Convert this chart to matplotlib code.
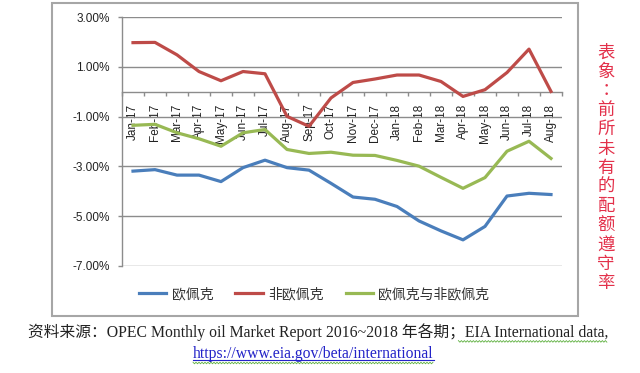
## OPEC / non-OPEC quota compliance chart, recreated from a report screenshot

import numpy as np
import matplotlib
matplotlib.use('Agg')
import matplotlib.pyplot as plt
from matplotlib.patches import Rectangle
from matplotlib.lines import Line2D
from matplotlib.ticker import FuncFormatter, FixedLocator

#-----data (in %)---------------------------------------

months = ['Jan-17', 'Feb-17', 'Mar-17', 'Apr-17', 'May-17', 'Jun-17', 'Jul-17',
          'Aug-17', 'Sep-17', 'Oct-17', 'Nov-17', 'Dec-17', 'Jan-18', 'Feb-18',
          'Mar-18', 'Apr-18', 'May-18', 'Jun-18', 'Jul-18', 'Aug-18']

opec = [-3.19, -3.13, -3.35, -3.35, -3.61, -3.05, -2.75, -3.05, -3.15, -3.68,
        -4.23, -4.32, -4.61, -5.19, -5.59, -5.95, -5.41, -4.19, -4.08, -4.13]

non_opec = [1.97, 1.98, 1.48, 0.81, 0.44, 0.81, 0.72, -0.99, -1.39, -0.25,
            0.37, 0.51, 0.67, 0.67, 0.41, -0.19, 0.08, 0.77, 1.71, 0.01]

both = [-1.35, -1.31, -1.65, -1.89, -2.19, -1.65, -1.52, -2.32, -2.48, -2.43,
        -2.55, -2.56, -2.76, -2.99, -3.44, -3.88, -3.45, -2.39, -1.99, -2.68]

series_names = ['欧佩克', '非欧佩克', '欧佩克与非欧佩克']
series_colors = ['#4a7ebb', '#be4b48', '#98b954']
y_ticks = [3, 1, -1, -3, -5, -7]

side_note = '表象：前所未有的配额遵守率'
source_line = '资料来源：OPEC Monthly oil Market Report 2016~2018 年各期；EIA International data,'
url_line = 'https://www.eia.gov/beta/international'

#-----figure-------------------------------------------

W, H = 640, 373
fig = plt.figure(figsize=(W / 100, H / 100), dpi=100)
fig.set_facecolor('white')

def fx(px):
    return px / W

def fy(py):
    return 1 - py / H

# outer chart frame
fig.patches.append(Rectangle((fx(52), fy(316)), fx(578) - fx(52), fy(3) - fy(316),
                             transform=fig.transFigure, fill=False,
                             edgecolor='#a6a6a6', linewidth=1.5))

ax = fig.add_axes([fx(122), fy(266), fx(562) - fx(122), fy(17) - fy(266)])
x = np.arange(len(months))

for vals, name, col in zip([opec, non_opec, both], series_names, series_colors):
    ax.plot(x, vals, color=col, linewidth=2.3, label=name, zorder=3)

ax.set_xlim(-0.5, len(months) - 0.5)
ax.set_ylim(-7, 3)

# gridlines
ax.yaxis.set_major_locator(FixedLocator(y_ticks))
ax.yaxis.grid(True, color='#8c8c8c', linewidth=1.0)
ax.set_axisbelow(True)
ax.yaxis.set_major_formatter(FuncFormatter(lambda v, p: '%.2f%%' % v))
ax.tick_params(axis='y', direction='out', length=3, width=1, color='#8c8c8c',
               pad=6, labelsize=8.5, labelcolor='#222222')
for lab in ax.get_yticklabels():
    lab.set_family('Liberation Sans')

# category axis sits on zero
for s in ['top', 'right']:
    ax.spines[s].set_visible(False)
ax.spines['left'].set_color('#8c8c8c')
ax.spines['left'].set_linewidth(1.0)
ax.spines['bottom'].set_position(('data', 0))
ax.spines['bottom'].set_color('#8c8c8c')
ax.spines['bottom'].set_linewidth(1.0)

ax.set_xticks(x)
ax.set_xticklabels(months, rotation=90, family='Liberation Sans', fontsize=8.5,
                   color='#222222', va='top', ha='center')
ax.tick_params(axis='x', which='major', length=0, pad=8.5)
ax.set_xticks(np.arange(len(months) + 1) - 0.5, minor=True)
ax.tick_params(axis='x', which='minor', direction='out', length=3, width=1,
               color='#8c8c8c')

# legend
leg = fig.legend(loc='center left', bbox_to_anchor=(fx(139), fy(294)), ncol=3,
                 frameon=False, borderpad=0, borderaxespad=0, handlelength=1.95,
                 handletextpad=0.4, columnspacing=1.6,
                 prop={'family': ['Noto Sans CJK SC'], 'size': 10})
for t in leg.get_texts():
    t.set_color('#333333')

# vertical red note on the right
for i, ch in enumerate(side_note):
    fam = ['Noto Sans CJK TC'] if ch == '：' else ['Noto Sans CJK SC']
    fig.text(fx(606), fy(43 + 9.6 + 19.2 * i), ch, color='#e3304a', fontsize=12.5,
             family=fam, ha='center', va='center')

# source notes below the chart
src = fig.text(fx(28), fy(332), source_line, fontsize=11.3, color='#222222',
               family=['Liberation Serif', 'Noto Sans CJK SC'], ha='left', va='center')
url = fig.text(fx(193), fy(354), url_line, fontsize=11.3, color='#2323c8',
               family=['Liberation Serif'], ha='left', va='center')

fig.canvas.draw()
r = fig.canvas.get_renderer()
bb = url.get_window_extent(r)
fig.lines.append(Line2D([bb.x0 / W, bb.x1 / W], [(bb.y0 + 2) / H] * 2,
                        transform=fig.transFigure, color='#2323c8', linewidth=0.8))

# spell-check squiggles
def squiggle(x0, x1, ypix):
    xs = np.arange(x0, x1, 1.5)
    ys = ypix + np.where(np.arange(len(xs)) % 2 == 0, 0.8, -0.8)
    fig.lines.append(Line2D(xs / W, ys / H, transform=fig.transFigure,
                            color='#5fb040', linewidth=0.6))

squiggle(bb.x0, bb.x1, bb.y0 - 1)
sb = src.get_window_extent(r)
squiggle(sb.x1 - 150, sb.x1, sb.y0 - 0.5)

fig.savefig('out.png', dpi=100, facecolor='white')
